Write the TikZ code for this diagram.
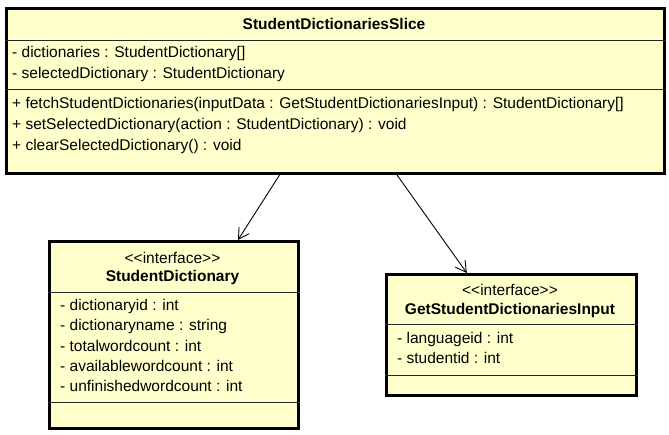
\documentclass[tikz,border=0pt]{standalone}
\usepackage{fontspec}
\setmainfont{Liberation Sans}[Ligatures=TeXOff]
\usetikzlibrary{calc, arrows.meta}
\definecolor{classFill}{HTML}{FFFFCC}

\begin{document}
\begin{tikzpicture}[x=1pt, y=-1pt,
    classbox/.style={draw, line width=2.6pt, fill=classFill, inner sep=0pt, anchor=north west},
    sepline/.style={draw=black!85, line width=0.9pt},
    member/.style={anchor=west, inner sep=0pt, font=\fontsize{15.5}{18}\selectfont},
    classname/.style={inner sep=0pt, font=\bfseries\fontsize{15.5}{18}\selectfont},
    stereotype/.style={inner sep=0pt, font=\fontsize{15.5}{18}\selectfont},
    dependency/.style={draw, line width=0.9pt, -{Straight Barb[length=10.5pt, width=12pt, line width=0.9pt]}},
    >=latex
  ]
    \useasboundingbox (0,0) rectangle (669,434);

    % Class boxes
    \node[classbox, minimum width=658pt, minimum height=165pt] (slice) at (5,7) {};
    \node[classbox, minimum width=249pt, minimum height=187pt] (dict) at (48,240) {};
    \node[classbox, minimum width=250pt, minimum height=121pt] (input) at (385,273) {};

    % StudentDictionariesSlice
    \node[classname] (sliceName) at (334,24) {StudentDictionariesSlice};
    \draw[sepline] (slice.west |- 0,40) -- (slice.east |- 0,40);
    \foreach \txt [count=\i] in {{- dictionaries : StudentDictionary[]}, {- selectedDictionary : StudentDictionary}}
      \node[member] (sliceAttr\i) at (12,{53+21*(\i-1)}) {\txt};
    \draw[sepline] (slice.west |- 0,89) -- (slice.east |- 0,89);
    \foreach \txt [count=\i] in {{+ fetchStudentDictionaries(inputData : GetStudentDictionariesInput) : StudentDictionary[]}, {+ setSelectedDictionary(action : StudentDictionary) : void}, {+ clearSelectedDictionary() : void}}
      \node[member] (sliceOp\i) at (12,{104+21*(\i-1)}) {\txt};

    % StudentDictionary
    \node[stereotype] (dictStereo) at (172.5,258) {<<interface>>};
    \node[classname] (dictName) at (172.5,277) {StudentDictionary};
    \draw[sepline] (dict.west |- 0,292) -- (dict.east |- 0,292);
    \foreach \txt [count=\i] in {{- dictionaryid : int}, {- dictionaryname : string}, {- totalwordcount : int}, {- availablewordcount : int}, {- unfinishedwordcount : int}}
      \node[member] (dictAttr\i) at (60,{306+20*(\i-1)}) {\txt};
    \draw[sepline] (dict.west |- 0,402) -- (dict.east |- 0,402);

    % GetStudentDictionariesInput
    \node[stereotype] (inputStereo) at (510,290) {<<interface>>};
    \node[classname] (inputName) at (510,310) {GetStudentDictionariesInput};
    \draw[sepline] (input.west |- 0,324) -- (input.east |- 0,324);
    \foreach \txt [count=\i] in {{- languageid : int}, {- studentid : int}}
      \node[member] (inputAttr\i) at (397,{339+19*(\i-1)}) {\txt};
    \draw[sepline] (input.west |- 0,375) -- (input.east |- 0,375);

    % Dependencies
    \draw[dependency] ($(slice.south west)!0.416!(slice.south east)$) -- ($(dict.north west)!0.755!(dict.north east)$);
    \draw[dependency] ($(slice.south west)!0.593!(slice.south east)$) -- ($(input.north west)!0.324!(input.north east)$);

  \end{tikzpicture}
\end{document}
